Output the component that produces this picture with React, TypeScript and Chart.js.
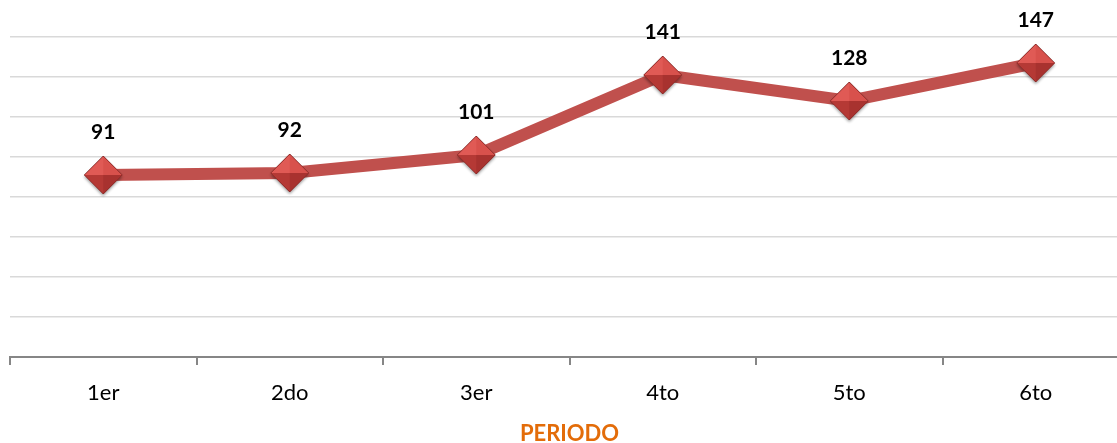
import React, { useEffect, useRef } from "react";
import { Chart, registerables } from "chart.js";

Chart.register(...registerables);

const categories = ["1er", "2do", "3er", "4to", "5to", "6to"];
const values = [91, 92, 101, 141, 128, 147];
const yMin = 0;
const yMax = 160;
const yStep = 20;
const axisTitle = "PERIODO";

function makeDiamond(): HTMLCanvasElement {
  const s = 46;
  const c = document.createElement("canvas");
  c.width = s;
  c.height = s;
  const ctx = c.getContext("2d") as CanvasRenderingContext2D;
  const cx = 23, cy = 23, r = 19;
  const pts = {
    t: [cx, cy - r],
    r: [cx + r, cy],
    b: [cx, cy + r],
    l: [cx - r, cy],
  };
  ctx.save();
  ctx.shadowColor = "rgba(0,0,0,0.4)";
  ctx.shadowBlur = 3;
  ctx.shadowOffsetY = 2;
  ctx.beginPath();
  ctx.moveTo(pts.t[0], pts.t[1]);
  ctx.lineTo(pts.r[0], pts.r[1]);
  ctx.lineTo(pts.b[0], pts.b[1]);
  ctx.lineTo(pts.l[0], pts.l[1]);
  ctx.closePath();
  ctx.fillStyle = "#B8433F";
  ctx.fill();
  ctx.restore();
  const facet = (a: number[], b: number[], col: string) => {
    ctx.beginPath();
    ctx.moveTo(cx, cy);
    ctx.lineTo(a[0], a[1]);
    ctx.lineTo(b[0], b[1]);
    ctx.closePath();
    ctx.fillStyle = col;
    ctx.fill();
  };
  facet(pts.l, pts.t, "#E05A55");
  facet(pts.t, pts.r, "#D8514C");
  facet(pts.r, pts.b, "#A8322F");
  facet(pts.b, pts.l, "#B53935");
  ctx.beginPath();
  ctx.moveTo(pts.t[0], pts.t[1]);
  ctx.lineTo(pts.r[0], pts.r[1]);
  ctx.lineTo(pts.b[0], pts.b[1]);
  ctx.lineTo(pts.l[0], pts.l[1]);
  ctx.closePath();
  ctx.strokeStyle = "#8E2C2A";
  ctx.lineWidth = 1;
  ctx.stroke();
  return c;
}

const labelPlugin = {
  id: "valueLabels",
  afterDatasetsDraw(chart: any) {
    const ctx = chart.ctx;
    const meta = chart.getDatasetMeta(0);
    ctx.save();
    ctx.font = "bold 21px Lato";
    ctx.fillStyle = "#000000";
    ctx.textAlign = "center";
    ctx.textBaseline = "middle";
    meta.data.forEach((pt: any, i: number) => {
      ctx.fillText(String(values[i]), pt.x, pt.y - 43);
    });
    ctx.restore();
  },
};

export default function App() {
  const ref = useRef<HTMLCanvasElement | null>(null);
  useEffect(() => {
    if (!ref.current) return;
    const diamond = makeDiamond();
    const chart = new Chart(ref.current, {
      type: "line",
      data: {
        labels: categories,
        datasets: [
          {
            data: values,
            borderColor: "#C0504D",
            borderWidth: 12,
            pointStyle: diamond as any,
            pointRadius: 19,
            tension: 0,
          },
        ],
      },
      options: {
        animation: false,
        responsive: false,
        devicePixelRatio: 1,
        layout: { autoPadding: false, padding: { left: 10, top: 37, right: 10, bottom: 0 } },
        plugins: {
          legend: { display: false },
          tooltip: { enabled: false },
        },
        scales: {
          x: {
            offset: true,
            grid: {
              offset: true,
              drawOnChartArea: false,
              drawTicks: true,
              tickLength: 8,
              color: "#868686",
              lineWidth: 2,
            },
            border: { display: true, color: "#868686", width: 2 },
            ticks: {
              color: "#000000",
              font: { family: "Lato", size: 22 },
              padding: 15,
            },
            title: {
              display: true,
              text: axisTitle,
              color: "#E36C09",
              font: { family: "Lato", size: 22, weight: "bold", lineHeight: 0.85 },
              padding: { top: 4, bottom: 0 },
            },
            afterFit: (scale: any) => {
              scale.height = 86;
            },
          },
          y: {
            min: yMin,
            max: yMax,
            ticks: { display: false, stepSize: yStep },
            border: { display: false },
            grid: { drawTicks: false, color: "#D9D9D9", lineWidth: 1.5 },
            afterFit: (scale: any) => {
              scale.width = 0;
            },
          },
        },
      },
      plugins: [labelPlugin],
    });
    return () => chart.destroy();
  }, []);
  return (
    <div
      style={{
        position: "fixed",
        left: 0,
        top: 0,
        width: 1117,
        height: 443,
        overflow: "hidden",
        background: "#ffffff",
      }}
    >
      <canvas ref={ref} width={1139} height={443} style={{ display: "block" }} />
    </div>
  );
}
